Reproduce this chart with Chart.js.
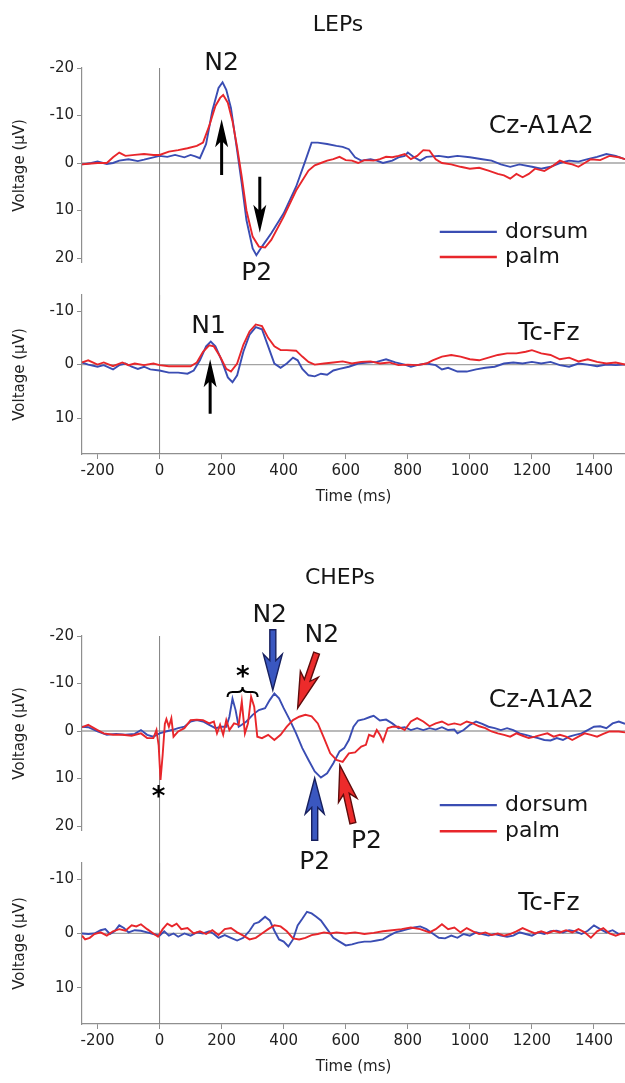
<!DOCTYPE html>
<html>
<head>
<meta charset="utf-8">
<script src="https://cdn.jsdelivr.net/npm/chart.js@4.4.0/dist/chart.umd.min.js"></script>
<style>
  html, body { margin: 0; padding: 0; background: #fff; }
  #wrap { position: relative; width: 625px; height: 1083px; overflow: hidden; background: #fff; }
  canvas { position: absolute; left: 0; }
</style>
</head>
<body>
<div id="wrap">
  <canvas id="c1" width="625" height="300" style="top:0px"></canvas>
  <canvas id="c2" width="625" height="233" style="top:280px"></canvas>
  <canvas id="c3" width="625" height="330" style="top:550px"></canvas>
  <canvas id="c4" width="625" height="235" style="top:848px"></canvas>
</div>
<script>
// ---------------- data (time in ms, voltage in µV) ----------------
const xTickValues = [-200, 0, 200, 400, 600, 800, 1000, 1200, 1400];
const czTickValues = [-20, -10, 0, 10, 20];
const tcTickValues = [-10, 0, 10];
const seriesNames = ['dorsum', 'palm'];

const lepCzDorsum = [[-250,0.3],[-220,0],[-200,-0.3],[-170,0.2],[-150,0],[-130,-0.5],[-100,-0.8],[-70,-0.4],[-50,-0.7],[-20,-1.2],[0,-1.5],[25,-1.3],[50,-1.7],[80,-1.2],[100,-1.7],[115,-1.4],[130,-1.0],[150,-4],[170,-11],[190,-15.8],[203,-17],[215,-15.4],[230,-11.6],[250,-2.6],[265,4.4],[280,12],[300,18],[312,19.4],[330,17.6],[360,14.8],[400,10.6],[440,5],[470,-0.5],[490,-4.3],[510,-4.3],[540,-4],[570,-3.6],[590,-3.4],[610,-2.9],[630,-1.2],[650,-0.5],[680,-0.8],[700,-0.5],[720,0],[750,-0.5],[770,-1.2],[790,-1.5],[800,-2.2],[820,-1.2],[840,-0.5],[860,-1.3],[900,-1.5],[930,-1.2],[960,-1.5],[1000,-1.2],[1040,-0.8],[1070,-0.5],[1100,0.3],[1130,0.8],[1160,0.3],[1200,0.8],[1230,1.2],[1260,0.8],[1290,0],[1320,-0.5],[1350,-0.3],[1380,-0.8],[1410,-1.3],[1440,-1.9],[1470,-1.5],[1500,-0.8]];

const lepCzPalm = [[-250,0.3],[-220,0.1],[-200,0],[-170,0],[-150,-1.2],[-130,-2.2],[-110,-1.5],[-80,-1.7],[-50,-1.9],[-20,-1.7],[0,-1.7],[30,-2.4],[60,-2.7],[90,-3.1],[120,-3.6],[140,-4.3],[160,-7.8],[180,-12],[195,-13.7],[205,-14.3],[220,-12.7],[235,-8.8],[250,-3.3],[265,3],[280,10],[300,15.5],[320,17.6],[340,17.8],[360,16.2],[400,11.3],[440,5.8],[480,1.6],[500,0.5],[520,0],[540,-0.5],[560,-0.8],[580,-1.3],[600,-0.6],[620,-0.5],[640,0],[660,-0.6],[690,-0.5],[710,-0.8],[730,-1.3],[750,-1.2],[770,-1.5],[790,-1.9],[810,-0.8],[830,-1.5],[850,-2.7],[870,-2.6],[890,-0.8],[910,0],[940,0.3],[970,0.8],[1000,1.2],[1030,1],[1060,1.6],[1090,2.3],[1110,2.6],[1130,3.3],[1150,2.3],[1170,3],[1190,2.3],[1210,1.2],[1240,1.7],[1270,0.5],[1290,-0.5],[1310,0],[1330,0.3],[1350,0.8],[1370,0],[1390,-0.8],[1420,-0.6],[1450,-1.5],[1480,-1.2],[1500,-0.8]];

const lepTcDorsum = [[-250,-0.4],[-230,0],[-200,0.4],[-180,0.1],[-150,0.9],[-130,0.1],[-110,-0.2],[-90,0.4],[-70,0.8],[-50,0.4],[-30,0.9],[0,1.1],[30,1.5],[60,1.5],[90,1.7],[110,1.1],[130,-0.8],[150,-3.4],[165,-4.3],[180,-3.4],[200,-0.8],[220,2.4],[235,3.3],[250,2],[270,-2.4],[290,-5.6],[310,-7],[330,-6.6],[350,-3.4],[370,-0.2],[390,0.6],[410,-0.2],[430,-1.3],[445,-0.8],[460,0.8],[480,2],[500,2.2],[520,1.7],[540,1.9],[560,1.1],[580,0.8],[610,0.4],[640,-0.2],[670,-0.4],[700,-0.5],[730,-1],[760,-0.4],[790,0],[810,0.4],[830,0.1],[860,-0.2],[890,0.1],[910,0.9],[930,0.6],[960,1.3],[990,1.3],[1020,0.9],[1050,0.6],[1080,0.4],[1110,-0.2],[1140,-0.4],[1170,-0.2],[1200,-0.5],[1230,-0.2],[1260,-0.5],[1290,0.1],[1320,0.4],[1350,-0.2],[1380,0],[1410,0.3],[1440,0],[1470,0.1],[1500,0]];

const lepTcPalm = [[-250,-0.4],[-230,-0.8],[-200,0],[-180,-0.4],[-150,0.3],[-120,-0.4],[-100,0.1],[-80,-0.2],[-50,0.1],[-20,-0.2],[0,0.1],[30,0.3],[70,0.3],[100,0.3],[120,-0.4],[140,-2.4],[160,-3.6],[175,-3.4],[195,-1.5],[215,0.8],[230,1.3],[250,-0.2],[270,-3.7],[290,-6.2],[310,-7.5],[330,-7.2],[350,-5],[370,-3.4],[390,-2.7],[410,-2.7],[440,-2.6],[460,-1.5],[480,-0.5],[500,0],[530,-0.2],[560,-0.4],[590,-0.6],[620,-0.2],[650,-0.5],[680,-0.6],[710,-0.2],[740,-0.4],[770,0.1],[800,0],[830,0.1],[860,-0.2],[880,-0.8],[910,-1.5],[940,-1.8],[970,-1.5],[1000,-1],[1030,-0.8],[1060,-1.3],[1090,-1.8],[1120,-2.1],[1150,-2.1],[1180,-2.4],[1200,-2.7],[1230,-2.1],[1260,-1.8],[1290,-1],[1320,-1.3],[1350,-0.6],[1380,-1],[1410,-0.5],[1440,-0.2],[1470,-0.4],[1500,0]];

const chepCzDorsum = [[-250,-0.9],[-230,-0.8],[-200,0.1],[-170,0.8],[-140,0.6],[-110,0.8],[-80,0.6],[-60,-0.2],[-40,0.8],[-20,1.2],[0,0.5],[20,0.1],[40,-0.2],[60,-0.6],[80,-0.9],[100,-2],[120,-2.3],[140,-2],[160,-1.3],[180,-0.6],[200,-0.9],[215,-0.9],[225,-3],[235,-6.8],[245,-4.4],[255,-0.9],[265,-1.3],[280,-2],[300,-3.4],[320,-4.4],[340,-4.8],[355,-6.5],[370,-7.9],[385,-6.9],[400,-4.8],[420,-2.3],[440,0.5],[460,3.6],[480,6.1],[500,8.5],[520,9.8],[540,8.9],[560,6.8],[580,4.3],[595,3.6],[610,1.9],[625,-0.9],[640,-2.2],[660,-2.5],[680,-3],[690,-3.2],[710,-2.2],[730,-2.4],[750,-1.6],[770,-0.6],[790,-0.8],[810,-0.2],[830,-0.6],[850,-0.2],[870,-0.6],[890,-0.3],[910,-0.8],[930,-0.2],[950,-0.3],[960,0.5],[980,-0.2],[1000,-1.3],[1020,-2],[1040,-1.5],[1060,-0.9],[1080,-0.6],[1100,-0.2],[1120,-0.6],[1140,-0.2],[1160,0.5],[1180,0.8],[1200,1.2],[1220,1.5],[1240,1.9],[1260,2],[1280,1.5],[1300,1.9],[1320,1.2],[1340,0.8],[1360,0.5],[1380,-0.2],[1400,-0.9],[1420,-1],[1440,-0.6],[1460,-1.6],[1480,-2],[1500,-1.5]];

const chepCzPalm = [[-250,-0.8],[-230,-1.3],[-200,-0.2],[-180,0.5],[-150,0.8],[-120,0.8],[-90,1],[-60,0.5],[-40,1.5],[-20,1.5],[-10,-0.2],[-3,3],[3,10.3],[10,5],[17,-1.5],[22,-2.5],[30,-0.9],[38,-2.7],[45,1.2],[60,0.1],[80,-0.6],[100,-2.3],[120,-2.4],[140,-2.3],[160,-1.6],[175,-2],[185,0.5],[195,-1.3],[205,0.8],[215,-2.3],[225,-0.2],[240,-1.6],[255,-1.3],[265,-6.2],[275,0.5],[285,-1.6],[295,-7.2],[305,-5.1],[315,1.2],[330,1.5],[350,0.8],[370,1.9],[390,0.8],[410,-0.9],[430,-2.3],[450,-3],[470,-3.4],[490,-3.1],[510,-1.6],[530,1.5],[550,4.7],[570,6.1],[590,6.5],[610,4.7],[630,4.5],[650,3.3],[665,2.9],[675,0.8],[690,1.2],[700,-0.2],[710,0.8],[720,2.2],[735,-0.6],[750,-0.9],[770,-0.9],[790,-0.2],[810,-2],[830,-2.7],[850,-2],[870,-1],[890,-1.6],[910,-2],[930,-1.3],[950,-1.6],[970,-1.3],[990,-2],[1010,-1.6],[1030,-1],[1050,-0.6],[1070,0.1],[1090,0.5],[1110,0.8],[1130,1.2],[1150,0.5],[1170,1],[1190,1.5],[1210,1.2],[1230,0.8],[1250,0.5],[1270,1.2],[1290,0.8],[1310,1.2],[1330,1.9],[1350,1.2],[1370,0.5],[1390,0.8],[1410,1.2],[1430,0.6],[1450,0.1],[1480,0.1],[1500,0.3]];

const chepTcDorsum = [[-250,0],[-230,0.1],[-210,0],[-190,-0.6],[-175,-0.8],[-160,0.1],[-145,-0.4],[-130,-1.5],[-115,-1],[-100,-0.2],[-80,-0.6],[-60,-0.5],[-40,-0.2],[-20,0.1],[0,0.4],[15,-0.4],[30,0.4],[45,0],[60,0.6],[80,0],[100,0.4],[120,-0.2],[140,0],[160,-0.4],[175,0.1],[190,0.8],[210,0.3],[230,0.8],[250,1.3],[270,0.8],[290,-0.5],[305,-1.8],[320,-2.1],[340,-3.1],[355,-2.4],[370,-0.5],[385,1.1],[400,1.5],[415,2.4],[430,1.1],[445,-1.5],[460,-2.7],[475,-4],[490,-3.7],[505,-3.1],[520,-2.4],[540,-0.8],[560,0.8],[580,1.5],[600,2.2],[620,2],[640,1.7],[660,1.5],[680,1.5],[700,1.3],[720,1.1],[740,0.4],[760,-0.2],[780,-0.5],[800,-0.8],[820,-1.1],[840,-1.3],[860,-0.8],[880,0],[900,0.8],[920,0.9],[940,0.4],[960,0.8],[980,0.1],[1000,0.4],[1020,-0.2],[1040,0.1],[1060,0.4],[1080,0.1],[1100,0.4],[1120,0.6],[1140,0.4],[1160,-0.2],[1180,0.1],[1200,0.4],[1220,-0.2],[1240,0.1],[1260,-0.4],[1280,-0.5],[1300,-0.2],[1320,-0.6],[1340,-0.4],[1360,0.1],[1380,-0.5],[1400,-1.5],[1420,-0.8],[1440,-0.2],[1460,-0.6],[1480,0.1],[1500,0]];

const chepTcPalm = [[-250,0.4],[-240,1.1],[-225,0.8],[-210,0.1],[-190,-0.2],[-170,0.4],[-150,-0.4],[-130,-0.8],[-110,-0.5],[-90,-1.5],[-75,-1.3],[-60,-1.7],[-40,-0.8],[-20,0],[-5,0.6],[10,-0.8],[25,-1.8],[40,-1.3],[55,-1.8],[70,-0.8],[90,-1],[110,0],[130,-0.4],[150,0.1],[170,-0.6],[190,0.3],[210,-0.8],[230,-1],[250,-0.2],[270,0.4],[290,1.1],[310,0.8],[330,0],[350,-0.8],[370,-1.5],[390,-1.3],[410,-0.4],[430,0.9],[450,1.1],[470,0.8],[490,0.3],[510,0.1],[530,-0.2],[550,0],[570,-0.2],[600,0],[630,-0.2],[660,0.1],[690,-0.1],[720,-0.4],[750,-0.6],[780,-0.8],[810,-1.1],[840,-0.8],[870,-0.2],[890,-0.8],[910,-1.7],[930,-0.8],[950,-1.1],[970,-0.2],[990,-1],[1010,-0.4],[1030,0.1],[1050,-0.2],[1070,0.3],[1090,0],[1110,0.4],[1130,0.1],[1150,-0.4],[1170,-1],[1190,-0.5],[1210,0],[1230,-0.4],[1250,0],[1270,-0.5],[1290,-0.2],[1310,-0.6],[1330,-0.2],[1350,-0.8],[1370,-0.2],[1390,0.8],[1410,-0.4],[1430,-1],[1450,0],[1470,0.4],[1490,0],[1500,0.1]];

// ---------------- styling ----------------
const FONT = "'DejaVu Sans', Verdana, sans-serif";
Chart.defaults.font.family = FONT;
Chart.defaults.color = '#222';
const BLUE = '#3a4db3';
const RED = '#e8262b';
const AXIS = '#8f8f8f';
const TXT = '#151515';

function label(ctx, s, x, y, size, align) {
  ctx.font = size + 'px ' + FONT;
  ctx.fillStyle = TXT;
  ctx.textAlign = align || 'center';
  ctx.textBaseline = 'middle';
  ctx.fillText(s, x, y);
}

function arrow(ctx, x1, y1, x2, y2, o) {
  const ang = Math.atan2(y2 - y1, x2 - x1);
  const len = Math.hypot(x2 - x1, y2 - y1);
  const hl = o.headLen, hw = o.headWidth / 2, sw = o.shaftWidth / 2, nb = hl * 0.82;
  ctx.save();
  ctx.translate(x2, y2);
  ctx.rotate(ang);
  ctx.beginPath();
  ctx.moveTo(0, 0);
  ctx.lineTo(-hl, -hw);
  ctx.lineTo(-nb, -sw);
  ctx.lineTo(-len, -sw);
  ctx.lineTo(-len, sw);
  ctx.lineTo(-nb, sw);
  ctx.lineTo(-hl, hw);
  ctx.closePath();
  ctx.fillStyle = o.fill;
  ctx.fill();
  if (o.stroke) { ctx.strokeStyle = o.stroke; ctx.lineWidth = o.lineWidth || 1.2; ctx.lineJoin = 'miter'; ctx.stroke(); }
  ctx.restore();
}
const blackArrow = {fill: '#000', headLen: 28, headWidth: 13, shaftWidth: 3};
const blueArrow = {fill: '#3a57c0', stroke: '#17205e', lineWidth: 1.4, headLen: 36, headWidth: 19, shaftWidth: 6};
const redArrow = {fill: '#ec2b2b', stroke: '#5e0c0c', lineWidth: 1.4, headLen: 36, headWidth: 19, shaftWidth: 6};

function star(ctx, x, y) {
  ctx.font = 'bold 26px ' + FONT;
  ctx.fillStyle = '#000';
  ctx.textAlign = 'center';
  ctx.textBaseline = 'middle';
  ctx.fillText('*', x, y + 6);
}

function brace(ctx, x1, x2, y, h) {
  const xm = (x1 + x2) / 2;
  ctx.beginPath();
  ctx.moveTo(x1, y + h / 2);
  ctx.quadraticCurveTo(x1, y, x1 + h / 2, y);
  ctx.lineTo(xm - h / 2, y);
  ctx.quadraticCurveTo(xm, y, xm, y - h / 2);
  ctx.quadraticCurveTo(xm, y, xm + h / 2, y);
  ctx.lineTo(x2 - h / 2, y);
  ctx.quadraticCurveTo(x2, y, x2, y + h / 2);
  ctx.strokeStyle = '#000';
  ctx.lineWidth = 2;
  ctx.stroke();
}

function legend(ctx, X, Y, t1, t2, tText, vBlue, vRed) {
  const rows = [[BLUE, seriesNames[0], vBlue], [RED, seriesNames[1], vRed]];
  rows.forEach(([c, name, v]) => {
    ctx.strokeStyle = c;
    ctx.lineWidth = 2.4;
    ctx.beginPath();
    ctx.moveTo(X(t1), Y(v));
    ctx.lineTo(X(t2), Y(v));
    ctx.stroke();
    label(ctx, name, X(tText), Y(v), 22, 'left');
  });
}

const decor = {
  id: 'decor',
  beforeDatasetsDraw(chart, args, opts) {
    const {ctx, chartArea: a, scales: {x, y}} = chart;
    ctx.save();
    const y0 = y.getPixelForValue(0);
    ctx.strokeStyle = '#a3a3a3';
    ctx.lineWidth = 1.3;
    ctx.beginPath(); ctx.moveTo(a.left, y0); ctx.lineTo(a.right, y0); ctx.stroke();
    const x0 = x.getPixelForValue(0);
    ctx.strokeStyle = '#808080';
    ctx.lineWidth = 1;
    ctx.beginPath(); ctx.moveTo(x0, a.top); ctx.lineTo(x0, opts.extend ? chart.height : a.bottom); ctx.stroke();
    ctx.restore();
  },
  afterDatasetsDraw(chart, args, opts) {
    if (!opts.draw) return;
    const {ctx, scales: {x, y}} = chart;
    ctx.save();
    opts.draw(ctx, v => x.getPixelForValue(v), v => y.getPixelForValue(v));
    ctx.restore();
  }
};

function makePanel(id, cfg) {
  const axisGrid = {drawOnChartArea: false, drawTicks: true, tickLength: 5, color: AXIS, lineWidth: 1};
  const axisBorder = {display: true, color: AXIS, width: 1.2};
  return new Chart(document.getElementById(id), {
    type: 'line',
    data: {
      datasets: [
        {label: seriesNames[0], data: cfg.dorsum.map(p => ({x: p[0], y: p[1]})), borderColor: BLUE, borderWidth: 1.9, pointRadius: 0, tension: 0, fill: false, order: 2},
        {label: seriesNames[1], data: cfg.palm.map(p => ({x: p[0], y: p[1]})), borderColor: RED, borderWidth: 1.9, pointRadius: 0, tension: 0, fill: false, order: 1}
      ]
    },
    options: {
      responsive: false,
      animation: false,
      events: [],
      layout: {padding: {top: cfg.padTop, bottom: cfg.padBottom, left: 0, right: 0}},
      plugins: {
        legend: {display: false},
        tooltip: {enabled: false},
        decor: {draw: cfg.draw, extend: cfg.extend}
      },
      scales: {
        x: {
          type: 'linear', min: -250, max: 1500, display: cfg.showX,
          afterBuildTicks: s => { s.ticks = xTickValues.map(v => ({value: v})); },
          afterFit: s => { if (cfg.showX) { s.height = 59; s.paddingLeft = 0; s.paddingRight = 0; } },
          grid: axisGrid, border: axisBorder,
          ticks: {font: {size: 15}, color: '#222', padding: 3, maxRotation: 0, autoSkip: false, callback: v => String(v)},
          title: {display: true, text: 'Time (ms)', font: {size: 15}, color: '#222', padding: {top: 0, bottom: 7}}
        },
        y: {
          type: 'linear', reverse: true, min: cfg.yMin, max: cfg.yMax,
          afterBuildTicks: s => { s.ticks = cfg.yTicks.map(v => ({value: v})); },
          afterFit: s => { s.width = 82; s.paddingTop = 0; s.paddingBottom = 0; },
          grid: axisGrid, border: axisBorder,
          ticks: {font: {size: 15}, color: '#222', padding: 3, callback: v => String(v)},
          title: {display: true, text: 'Voltage (µV)', font: {size: 15}, color: '#222', padding: {top: 11, bottom: 0}}
        }
      }
    },
    plugins: [decor]
  });
}

// LEPs, Cz-A1A2
makePanel('c1', {
  dorsum: lepCzDorsum, palm: lepCzPalm, yMin: -20, yMax: 21, yTicks: czTickValues,
  showX: false, padTop: 68, padBottom: 37.25, extend: true,
  draw(ctx, X, Y) {
    label(ctx, 'LEPs', 338, 25, 22);
    label(ctx, 'N2', X(200), Y(-21), 25);
    arrow(ctx, X(200), Y(2.5), X(200), Y(-9.2), blackArrow);
    arrow(ctx, X(323), Y(2.9), X(323), Y(14.7), blackArrow);
    label(ctx, 'P2', X(313), Y(23.2), 25);
    label(ctx, 'Cz-A1A2', X(1230), Y(-7.6), 25);
    legend(ctx, X, Y, 903, 1087, 1113, 14.5, 19.8);
  }
});

// LEPs, Tc-Fz
makePanel('c2', {
  dorsum: lepTcDorsum, palm: lepTcPalm, yMin: -13, yMax: 16.7, yTicks: tcTickValues,
  showX: true, padTop: 15, padBottom: 0, extend: false,
  draw(ctx, X, Y) {
    label(ctx, 'N1', X(158), Y(-7.2), 25);
    arrow(ctx, X(163), Y(9.2), X(163), Y(-1), blackArrow);
    label(ctx, 'Tc-Fz', X(1255), Y(-5.8), 25);
  }
});

// CHEPs, Cz-A1A2
makePanel('c3', {
  dorsum: chepCzDorsum, palm: chepCzPalm, yMin: -20, yMax: 21, yTicks: czTickValues,
  showX: false, padTop: 86, padBottom: 49.25, extend: true,
  draw(ctx, X, Y) {
    label(ctx, 'CHEPs', 340, 28, 22);
    label(ctx, 'N2', X(355), Y(-24.4), 25);
    arrow(ctx, X(365), Y(-21.3), X(365), Y(-8.6), blueArrow);
    label(ctx, 'N2', X(523), Y(-20.2), 25);
    arrow(ctx, X(506), Y(-16.4), X(445), Y(-4.8), redArrow);
    arrow(ctx, X(500), Y(23), X(500), Y(9.9), blueArrow);
    label(ctx, 'P2', X(500), Y(27.6), 25);
    arrow(ctx, X(623), Y(19.4), X(581), Y(7.2), redArrow);
    label(ctx, 'P2', X(667), Y(23.2), 25);
    star(ctx, X(-3), Y(12.8));
    brace(ctx, X(219), X(316), Y(-8.2), 10);
    star(ctx, X(268), Y(-12.4));
    label(ctx, 'Cz-A1A2', X(1230), Y(-6.5), 25);
    legend(ctx, X, Y, 903, 1087, 1113, 15.6, 21.1);
  }
});

// CHEPs, Tc-Fz
makePanel('c4', {
  dorsum: chepTcDorsum, palm: chepTcPalm, yMin: -13, yMax: 16.7, yTicks: tcTickValues,
  showX: true, padTop: 15, padBottom: 0, extend: false,
  draw(ctx, X, Y) {
    label(ctx, 'Tc-Fz', X(1255), Y(-5.5), 25);
  }
});
</script>
</body>
</html>
